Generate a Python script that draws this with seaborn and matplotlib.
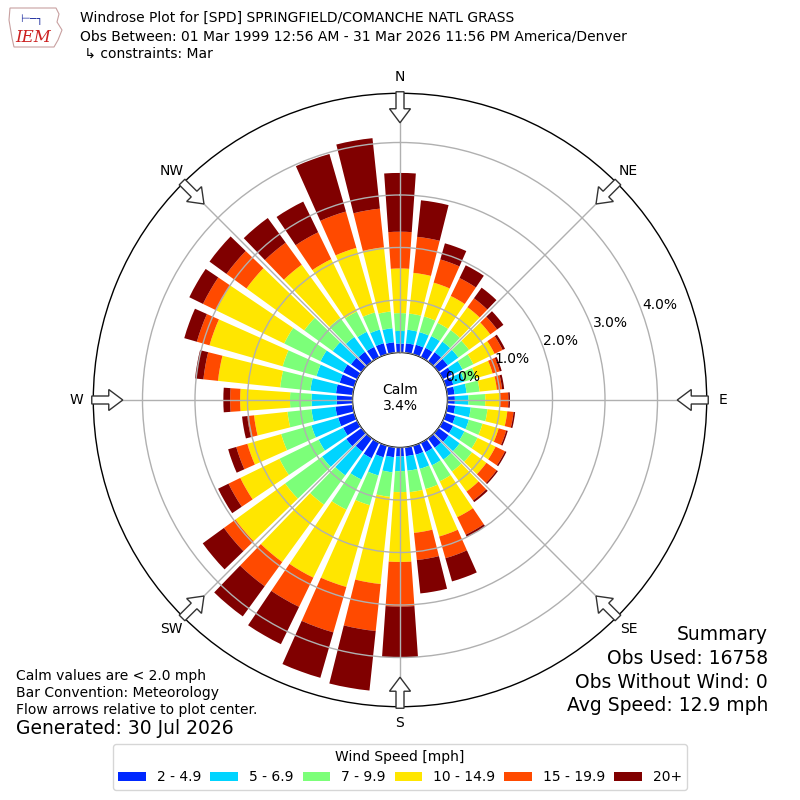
import numpy as np
import matplotlib
matplotlib.use("Agg")
import matplotlib.pyplot as plt
import seaborn as sns
from matplotlib.patches import Patch, FancyArrow, Polygon

# ---------------- data (percent of observations) ----------------
directions = list(range(0, 360, 10))
bin_labels = ["2 - 4.9", "5 - 6.9", "7 - 9.9", "10 - 14.9", "15 - 19.9", "20+"]
bin_colors = ["#0028ff", "#00d4ff", "#7cff79", "#ffe600", "#ff4a00", "#800000"]

spd_2_5 = [0.17, 0.18, 0.19, 0.20, 0.22, 0.22, 0.20, 0.15, 0.14, 0.14, 0.15, 0.19,
           0.22, 0.24, 0.22, 0.20, 0.18, 0.17, 0.17, 0.19, 0.23, 0.33, 0.31, 0.36,
           0.30, 0.32, 0.33, 0.30, 0.32, 0.29, 0.30, 0.25, 0.23, 0.22, 0.22, 0.20]
spd_5_7 = [0.24, 0.26, 0.25, 0.25, 0.25, 0.25, 0.22, 0.22, 0.23, 0.26, 0.30, 0.27,
           0.24, 0.26, 0.28, 0.28, 0.28, 0.28, 0.28, 0.29, 0.36, 0.45, 0.56, 0.57,
           0.52, 0.53, 0.46, 0.48, 0.49, 0.46, 0.48, 0.43, 0.35, 0.32, 0.27, 0.27]
spd_7_10 = [0.34, 0.31, 0.31, 0.28, 0.27, 0.25, 0.23, 0.23, 0.25, 0.32, 0.32, 0.27,
            0.28, 0.29, 0.28, 0.34, 0.40, 0.41, 0.40, 0.47, 0.59, 0.64, 0.69, 0.87,
            0.83, 0.60, 0.46, 0.41, 0.58, 0.67, 0.77, 0.67, 0.45, 0.43, 0.34, 0.32]
spd_10_15 = [0.85, 0.78, 0.67, 0.57, 0.54, 0.50, 0.45, 0.33, 0.33, 0.28, 0.38, 0.32,
             0.38, 0.34, 0.47, 0.76, 0.94, 0.78, 1.33, 1.67, 1.62, 1.44, 1.35, 1.17,
             0.83, 0.67, 0.64, 0.95, 1.19, 1.45, 1.44, 1.36, 1.25, 1.11, 1.28, 1.23]
spd_15_20 = [0.70, 0.69, 0.46, 0.38, 0.21, 0.16, 0.17, 0.14, 0.10, 0.16, 0.12, 0.15,
             0.20, 0.24, 0.21, 0.37, 0.43, 0.52, 0.85, 0.90, 0.90, 0.62, 0.57, 0.27,
             0.25, 0.22, 0.13, 0.19, 0.28, 0.25, 0.28, 0.47, 0.52, 0.57, 0.72, 0.74]
spd_20p = [1.12, 0.70, 0.32, 0.27, 0.25, 0.15, 0.05, 0.04, 0.04, 0.03, 0.03, 0.03,
           0.03, 0.03, 0.04, 0.05, 0.46, 0.64, 0.97, 1.14, 0.90, 0.79, 0.71, 0.50,
           0.22, 0.16, 0.10, 0.13, 0.16, 0.25, 0.29, 0.40, 0.58, 0.65, 1.14, 1.35]

rticks = [0, 1, 2, 3, 4]
rtick_labels = ["0.0%", "1.0%", "2.0%", "3.0%", "4.0%"]
compass_angles = [0, 45, 90, 135, 180, 225, 270, 315]
compass_labels = ["N", "NE", "E", "SE", "S", "SW", "W", "NW"]

title_lines = ["Windrose Plot for [SPD] SPRINGFIELD/COMANCHE NATL GRASS",
               "Obs Between: 01 Mar 1999 12:56 AM - 31 Mar 2026 11:56 PM America/Denver",
               " \u21b3 constraints: Mar"]
notes = ["Calm values are < 2.0 mph", "Bar Convention: Meteorology",
         "Flow arrows relative to plot center."]
generated = "Generated: 30 Jul 2026"
summary = ["Summary", "Obs Used: 16758", "Obs Without Wind: 0", "Avg Speed: 12.9 mph"]
calm_text = "Calm\n3.4%"

# ---------------- style ----------------
sns.set_theme(style="white", rc={"text.color": "black", "axes.labelcolor": "black",
                                 "xtick.color": "black", "ytick.color": "black"})
plt.rcParams["font.family"] = ["DejaVu Sans"]
palette = sns.color_palette(bin_colors)

W = H = 800
fig = plt.figure(figsize=(8, 8), dpi=100)
fig.patch.set_facecolor("white")

R_PX = 306.7
rect = [(400 - R_PX) / W, (400 - R_PX) / H, 2 * R_PX / W, 2 * R_PX / H]
ax = fig.add_axes(rect, projection="polar")
ax.set_theta_zero_location("N")
ax.set_theta_direction(-1)
r0 = 0.905
rmax = 4.937
ax.set_rorigin(-r0)
ax.set_ylim(0, rmax)

series = [spd_2_5, spd_5_7, spd_7_10, spd_10_15, spd_15_20, spd_20p]
theta = np.radians(directions)
width = np.radians(8.0)
bottom = np.zeros(len(directions))
for vals, col in zip(series, palette):
    v = np.array(vals)
    ax.bar(theta, v, width=width, bottom=bottom, color=col, edgecolor="none",
           align="center", zorder=1)
    bottom = bottom + v

ax.set_axisbelow(False)
ax.set_xticks(np.radians(compass_angles))
ax.set_xticklabels(compass_labels, fontsize=10, color="black")
ax.tick_params(axis="x", pad=-1)
ax.set_yticks(rticks)
ax.set_yticklabels(rtick_labels, fontsize=10, color="black")
ax.set_rlabel_position(70)
ax.grid(True, color="#b0b0b0", lw=1.0, zorder=3)
for gl in ax.xaxis.get_gridlines() + ax.yaxis.get_gridlines():
    gl.set_zorder(3)
for name, sp in ax.spines.items():
    sp.set_color("black")
    sp.set_linewidth(1.0)
ax.set_facecolor("white")

# ---------------- flow arrows ----------------
ov = fig.add_axes(rect, frameon=False)
ov.set_xlim(-1, 1)
ov.set_ylim(-1, 1)
ov.set_axis_off()
L = 31 / R_PX
for ang in compass_angles:
    a = np.radians(ang)
    ux, uy = np.sin(a), np.cos(a)
    ov.add_patch(FancyArrow(1.005 * ux, 1.005 * uy, -L * ux, -L * uy,
                            width=8 / R_PX, head_width=21 / R_PX,
                            head_length=14 / R_PX, length_includes_head=True,
                            facecolor="white", edgecolor="#333333", lw=1.0,
                            zorder=5, clip_on=False))

# ---------------- texts ----------------
fig.text(0.5, 1 - 398 / H, calm_text, ha="center", va="center", fontsize=10,
         linespacing=1.2, color="black")
for i, t in enumerate(title_lines):
    fig.text(80 / W, 1 - (18 + 18 * i) / H, t, ha="left", va="center", fontsize=10,
             color="black")
for i, t in enumerate(notes):
    fig.text(16 / W, 1 - (676 + 17 * i) / H, t, ha="left", va="center", fontsize=10,
             color="black")
fig.text(16 / W, 1 - 728 / H, generated, ha="left", va="center", fontsize=13.5,
         color="black")
for i, t in enumerate(summary):
    fig.text(768 / W, 1 - (635 + 23.5 * i) / H, t, ha="right", va="center",
             fontsize=13.5, color="black")

# ---------------- logo (approximation) ----------------
logo_pts = [(10, 8), (56, 8), (59, 14), (57, 22), (62, 30), (58, 40), (54, 47),
            (14, 47), (12, 38), (9, 20)]
fig.add_artist(Polygon([(x / W, 1 - y / H) for x, y in logo_pts], closed=True,
                       fill=False, edgecolor="#c8a0a0", lw=0.8,
                       transform=fig.transFigure))
fig.text(33 / W, 1 - 38 / H, "IEM", ha="center", va="center", fontsize=12,
         color="#cc2020", style="italic", family=["DejaVu Serif"])
fig.text(32 / W, 1 - 20 / H, "\u22a2\u2500\u2510", ha="center", va="center",
         fontsize=8, color="#2030a0")

# ---------------- legend ----------------
handles = [Patch(facecolor=c, edgecolor="none", label=l)
           for c, l in zip(palette, bin_labels)]
leg = fig.legend(handles=handles, loc="lower center", ncol=6,
                 bbox_to_anchor=(0.5, 10 / H), bbox_transform=fig.transFigure,
                 title="Wind Speed [mph]", fontsize=10, title_fontsize=10,
                 frameon=True, fancybox=True, columnspacing=0.68,
                 handlelength=2.0, handletextpad=0.75, borderaxespad=0.0,
                 labelcolor="black")
leg.get_title().set_color("black")
leg.get_frame().set_edgecolor("#cccccc")
leg.get_frame().set_linewidth(1.0)

fig.savefig("out.png", dpi=100, facecolor="white")
